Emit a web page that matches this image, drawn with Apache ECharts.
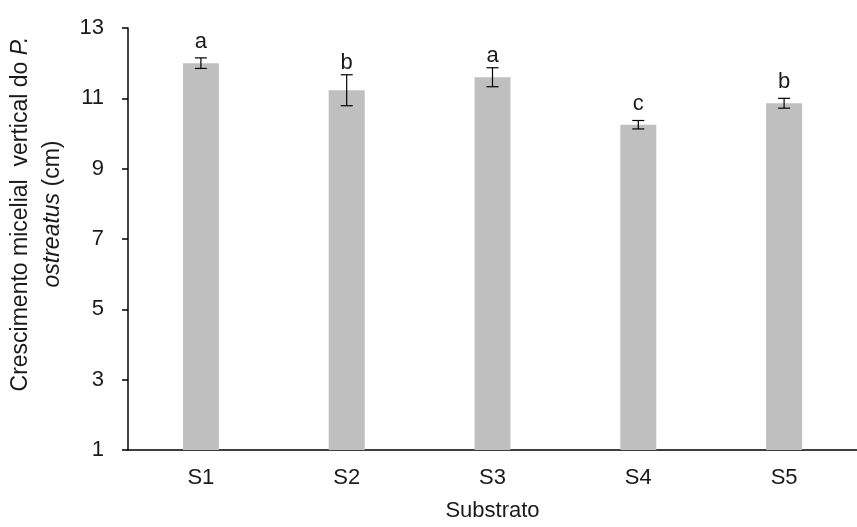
<!DOCTYPE html>
<html>
<head>
<meta charset="utf-8">
<script src="https://cdn.jsdelivr.net/npm/echarts@6/dist/echarts.min.js"></script>
<style>
  html, body { margin: 0; padding: 0; background: #fff; }
  #chart { width: 857px; height: 527px; }
</style>
</head>
<body>
<div id="chart"></div>
<script>
// dados
var categories = ['S1', 'S2', 'S3', 'S4', 'S5'];
var means = [12.0, 11.23, 11.6, 10.25, 10.86];
var errors = [0.15, 0.44, 0.27, 0.12, 0.14];
var letters = ['a', 'b', 'a', 'c', 'b'];
var yTicks = [1, 3, 5, 7, 9, 11, 13];

var font = 'Liberation Sans, Arial, sans-serif';
var txt = '#1a1a1a';
var fs = 22;

var errData = means.map(function (m, i) { return [i, m, errors[i]]; });

var myChart = echarts.init(document.getElementById('chart'));
myChart.setOption({
    animation: false,
    grid: { left: 128, right: -13, top: 28, bottom: 74 },
    xAxis: {
        type: 'category',
        data: categories,
        name: 'Substrato',
        nameLocation: 'middle',
        nameGap: 50,
        nameTextStyle: { fontFamily: font, fontSize: fs, color: txt },
        axisLine: { lineStyle: { color: '#000', width: 1.5 } },
        axisTick: { show: false },
        axisLabel: { fontFamily: font, fontSize: fs, color: txt, margin: 17 }
    },
    yAxis: {
        type: 'value',
        min: yTicks[0],
        max: yTicks[yTicks.length - 1],
        interval: 2,
        name: '{n|Crescimento micelial  vertical do }{i|P.}\n{i|ostreatus}{n| (cm)}',
        nameLocation: 'middle',
        nameGap: 59,
        nameTextStyle: {
            padding: [0, 0, 0, 50],
            rich: {
                n: { fontFamily: font, fontSize: 23, color: txt, lineHeight: 32 },
                i: { fontFamily: font, fontSize: 23, color: txt, fontStyle: 'italic', lineHeight: 32 }
            }
        },
        axisLine: { show: true, lineStyle: { color: '#000', width: 1.5 } },
        axisTick: { show: true, inside: false, length: 6, lineStyle: { color: '#000', width: 1.5 } },
        axisLabel: { fontFamily: font, fontSize: fs, color: txt, margin: 24 },
        splitLine: { show: false }
    },
    series: [
        {
            type: 'bar',
            data: means,
            barWidth: 36,
            itemStyle: { color: '#bfbfbf' }
        },
        {
            type: 'custom',
            data: errData,
            z: 10,
            renderItem: function (params, api) {
                var i = api.value(0), m = api.value(1), e = api.value(2);
                var top = api.coord([i, m + e]);
                var bot = api.coord([i, m - e]);
                var bar = api.coord([i, m]);
                var x = top[0], w = 6;
                var base = Math.min(bar[1] - 15, top[1] - 6);
                var line = { stroke: '#000', lineWidth: 1.2 };
                return {
                    type: 'group',
                    children: [
                        { type: 'line', shape: { x1: x, y1: top[1], x2: x, y2: bot[1] }, style: line },
                        { type: 'line', shape: { x1: x - w, y1: top[1], x2: x + w, y2: top[1] }, style: line },
                        { type: 'line', shape: { x1: x - w, y1: bot[1], x2: x + w, y2: bot[1] }, style: line },
                        {
                            type: 'text',
                            style: {
                                x: x, y: base + 5,
                                text: letters[params.dataIndex],
                                fontFamily: font, fontSize: fs, fill: txt,
                                align: 'center', verticalAlign: 'bottom'
                            }
                        }
                    ]
                };
            }
        }
    ]
});
</script>
</body>
</html>
